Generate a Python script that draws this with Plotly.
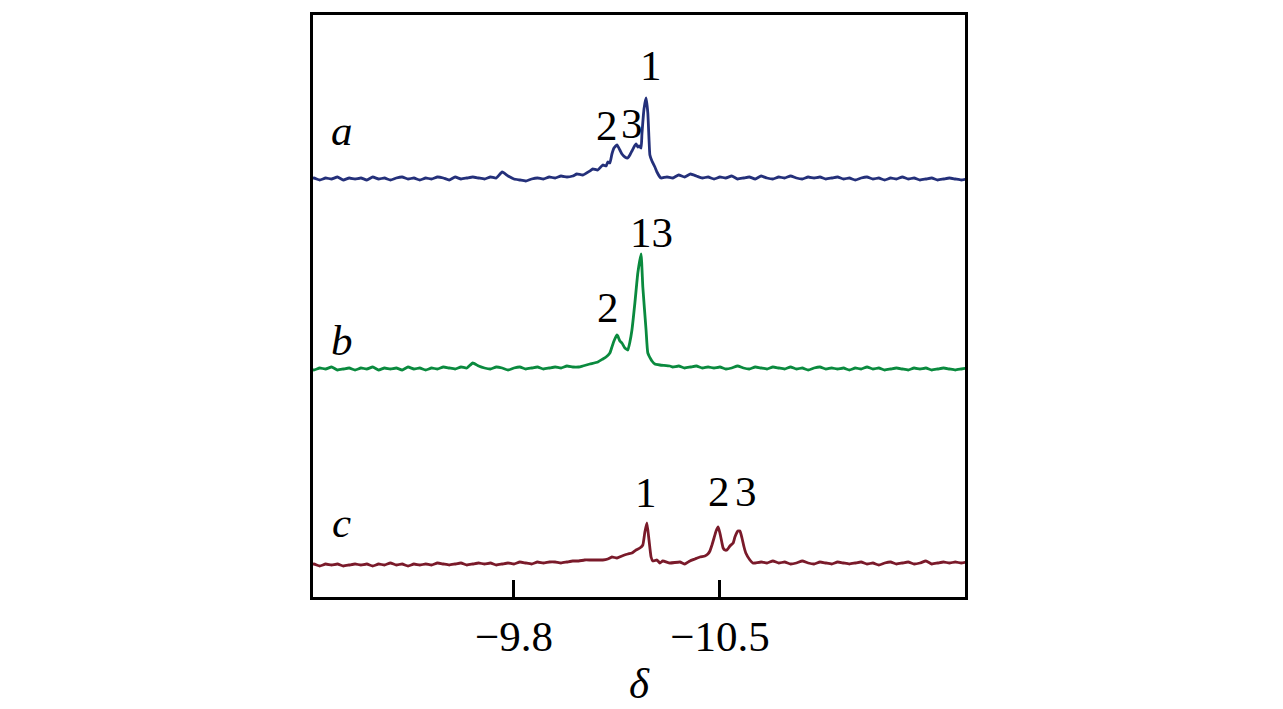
import plotly.graph_objects as go

# Shared chemical-shift grid for the noisy baselines (delta, ppm)
GRID = [
    -9.10, -9.12, -9.14, -9.16, -9.18, -9.20, -9.22, -9.24, -9.26, -9.28,
    -9.30, -9.32, -9.34, -9.36, -9.38, -9.40, -9.42, -9.44, -9.46, -9.48,
    -9.50, -9.52, -9.54, -9.56, -9.58, -9.60, -9.62, -9.64, -9.66, -9.68,
    -9.70, -9.72, -9.74, -9.76, -9.78, -9.80, -9.82, -9.84, -9.86, -9.88,
    -9.90, -9.92, -9.94, -9.96, -9.98, -10.00, -10.02, -10.04, -10.06, -10.08,
    -10.10, -10.12, -10.14, -10.16, -10.18, -10.20, -10.22, -10.24, -10.26, -10.28,
    -10.30, -10.32, -10.34, -10.36, -10.38, -10.40, -10.42, -10.44, -10.46, -10.48,
    -10.50, -10.52, -10.54, -10.56, -10.58, -10.60, -10.62, -10.64, -10.66, -10.68,
    -10.70, -10.72, -10.74, -10.76, -10.78, -10.80, -10.82, -10.84, -10.86, -10.88,
    -10.90, -10.92, -10.94, -10.96, -10.98, -11.00, -11.02, -11.04, -11.06, -11.08,
    -11.10, -11.12, -11.14, -11.16, -11.18, -11.20, -11.22, -11.24, -11.26, -11.28,
    -11.30, -11.32, -11.34,
]

# Baseline intensities (arbitrary units) on GRID
A_NOISE = [
    0, 1, -1, 1, 0, 2, -1, 1, 0, 1,
    -1, 2, 0, 1, -1, 1, 2, 0, 1, -1,
    1, 0, 2, 1, -1, 2, 0, 1, 2, 1,
    0, 2, 1, 7, 3, 0, -1, -2, 0, 1,
    0, 2, 1, 3, 2, 4, 5, 6, 8, 10,
    0, 0, 0, 0, 0, 0, 0, 0, 0, 0,
    1, 2, 1, 4, 2, 5, 3, 1, 2, 0,
    2, 1, 3, 0, 1, 2, 0, 3, 1, 0,
    2, 1, 3, 1, 0, 2, 1, 2, 0, 1,
    2, 0, 1, -1, 1, 2, 0, 1, -1, 1,
    0, 2, 0, 1, -1, 0, 1, -1, 0, 1,
    0, -1, 0,
]
B_NOISE = [
    0, -1, 1, 0, 2, -1, 0, 1, -1, 1,
    0, 2, -1, 1, 0, 1, -1, 2, 0, 1,
    -1, 1, 0, 2, 1, 0, 2, 1, 6, 3,
    1, 0, 2, 1, -1, 1, 2, 0, 1, 2,
    0, 1, 2, 1, 3, 2, 2, 3, 4, 6,
    0, 0, 0, 0, 0, 0, 0, 0, 0, 0,
    4, 3, 2, 3, 1, 2, 3, 1, 2, 1,
    2, 0, 1, 3, 1, 0, 2, 1, 0, 2,
    1, 0, 2, 0, 1, -1, 1, 2, 0, 1,
    0, 1, -1, 1, 0, 2, 0, 1, -1, 0,
    1, 0, -1, 1, 0, 1, -1, 0, 1, 0,
    -1, 0, 1,
]
C_NOISE = [
    0, 1, -1, 1, 0, 1, -1, 0, 1, 0,
    1, -1, 1, 0, 2, 0, 1, -1, 1, 0,
    1, 0, 2, 1, 0, 1, 2, 0, 1, 2,
    1, 2, 0, 1, 2, 1, 3, 2, 1, 3,
    2, 3, 3, 2, 3, 4, 4, 5, 5, 5,
    5, 0, 0, 0, 0, 0, 0, 0, 0, 0,
    0, 0, 0, 0, 0, 0, 0, 0, 0, 0,
    0, 0, 0, 0, 0, 0, 2, 3, 2, 4,
    2, 3, 1, 2, 4, 2, 1, 3, 2, 1,
    3, 2, 1, 2, 3, 1, 2, 0, 2, 3,
    1, 2, 3, 1, 2, 4, 1, 2, 3, 2,
    3, 2, 3,
]

# Peak regions (delta, intensity)
A_PEAK_X = [-10.000, -10.014, -10.034, -10.058, -10.068, -10.085, -10.102, -10.113,
            -10.119, -10.126, -10.133, -10.140, -10.150, -10.160, -10.167, -10.177,
            -10.187, -10.194, -10.201, -10.208, -10.215, -10.221, -10.225, -10.232,
            -10.235, -10.242, -10.249, -10.255, -10.259, -10.262, -10.269, -10.279,
            -10.286, -10.296]
A_PEAK_Y = [3, 5, 4, 8, 10, 9, 14, 13,
            17, 16, 25, 31, 34, 29, 25, 22,
            21, 24, 28, 32, 35, 32, 33, 31,
            45, 70, 81, 66, 40, 24, 18, 12,
            7, 2]

B_PEAK_X = [-10.034, -10.058, -10.085, -10.102, -10.113, -10.126, -10.133, -10.140,
            -10.150, -10.153, -10.160, -10.167, -10.177, -10.187, -10.194, -10.201,
            -10.211, -10.221, -10.232, -10.238, -10.249, -10.255, -10.269, -10.279,
            -10.296, -10.330]
B_PEAK_Y = [3, 5, 7, 10, 12, 16, 22, 28,
            34, 33, 28, 26, 21, 19, 27, 39,
            66, 96, 115, 82, 39, 16, 8, 5,
            4, 3]

C_PEAK_X = [-10.102, -10.119, -10.133, -10.150, -10.167, -10.187, -10.201, -10.215,
            -10.228, -10.238, -10.245, -10.252, -10.259, -10.266, -10.272, -10.286,
            -10.296, -10.306, -10.330, -10.364, -10.381, -10.398, -10.415, -10.432,
            -10.449, -10.459, -10.466, -10.473, -10.480, -10.487, -10.494, -10.500,
            -10.507, -10.511, -10.517, -10.524, -10.534, -10.545, -10.551, -10.561,
            -10.568, -10.575, -10.582, -10.588, -10.602, -10.612]
C_PEAK_Y = [5, 6, 8, 7, 9, 11, 12, 15,
            17, 20, 33, 42, 25, 8, 4, 5,
            2, 4, 2, 3, 1, 4, 6, 8,
            9, 11, 14, 20, 27, 34, 38, 32,
            22, 17, 15, 15, 19, 22, 28, 34,
            34, 27, 18, 12, 5, 2]

# Vertical stacking offsets of the spectra
OFFSETS = {"a": 418, "b": 228, "c": 32}
COLORS = {"a": "#24307a", "b": "#0a8a3e", "c": "#7a1a2a"}

TICKS = [-9.8, -10.5]
X_RANGE = [-9.117, -11.333]
Y_RANGE = [0, 582]

# Peak labels: (text, delta, height)
LABELS = [
    ("1", -10.266, 532), ("2", -10.116, 472), ("3", -10.201, 474),
    ("13", -10.269, 365), ("2", -10.119, 290),
    ("1", -10.249, 105), ("2", -10.496, 106), ("3", -10.588, 106),
]
TRACE_NAMES = [("a", -9.215, 467), ("b", -9.215, 257), ("c", -9.215, 75)]


def combine(noise, px, py):
    lo, hi = max(px), min(px)
    pts = [(x, y) for x, y in zip(GRID, noise) if x > lo or x < hi]
    pts += list(zip(px, py))
    pts.sort(key=lambda p: -p[0])
    return [p[0] for p in pts], [p[1] for p in pts]


fig = go.Figure()
for key, noise, px, py in [("a", A_NOISE, A_PEAK_X, A_PEAK_Y),
                           ("b", B_NOISE, B_PEAK_X, B_PEAK_Y),
                           ("c", C_NOISE, C_PEAK_X, C_PEAK_Y)]:
    xs, ys = combine(noise, px, py)
    fig.add_trace(go.Scatter(
        x=xs, y=[v + OFFSETS[key] for v in ys], mode="lines",
        line=dict(color=COLORS[key], width=2.8, shape="spline", smoothing=0.4),
        showlegend=False, hoverinfo="skip"))

FONT = "Liberation Serif, Times New Roman, serif"
for text, x, y in LABELS:
    fig.add_annotation(x=x, y=y, text=text, showarrow=False,
                       font=dict(family=FONT, size=43, color="black"))
for text, x, y in TRACE_NAMES:
    fig.add_annotation(x=x, y=y, text=f"<i>{text}</i>", showarrow=False,
                       font=dict(family=FONT, size=43, color="black"))
fig.add_annotation(x=0.5, y=-0.148, xref="paper", yref="paper", text="<i>δ</i>",
                   showarrow=False, yanchor="middle",
                   font=dict(family=FONT, size=43, color="black"))

fig.update_layout(
    width=1283, height=709,
    margin=dict(l=313, r=318, t=15, b=112),
    paper_bgcolor="white", plot_bgcolor="white",
    xaxis=dict(range=X_RANGE, tickvals=TICKS, ticks="inside", ticklen=17,
               tickwidth=2.5, tickcolor="black", showgrid=False, zeroline=False,
               showline=True, linewidth=2.5, linecolor="black", mirror=True,
               tickfont=dict(family=FONT, size=43, color="black")),
    yaxis=dict(range=Y_RANGE, showticklabels=False, ticks="", showgrid=False,
               zeroline=False, showline=True, linewidth=2.5, linecolor="black",
               mirror=True),
)

# Remove the default page margin so the figure fills the window exactly.
fig.write_html("out.html",
               config={"displayModeBar": False},
               post_script="document.body.style.margin='0';"
                           "document.body.style.overflow='hidden';")
